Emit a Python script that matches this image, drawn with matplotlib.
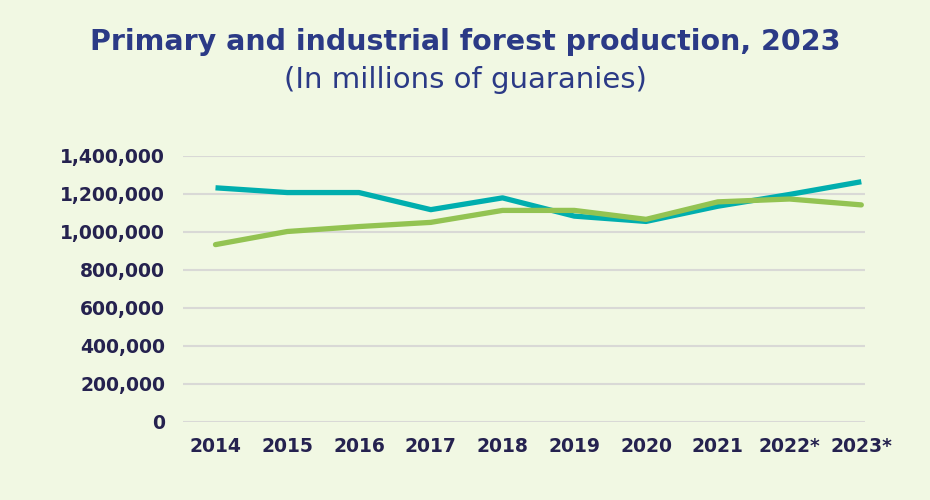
import matplotlib
matplotlib.use("Agg")
import matplotlib.pyplot as plt
from matplotlib.ticker import FuncFormatter

# Datos
years = ["2014", "2015", "2016", "2017", "2018", "2019", "2020", "2021", "2022*", "2023*"]
teal_values = [1230000, 1205000, 1205000, 1115000, 1177000, 1081000, 1053000, 1133000, 1195000, 1262000]
green_values = [931000, 1000000, 1026000, 1048000, 1111000, 1111000, 1064000, 1156000, 1171000, 1140000]
y_ticks = [0, 200000, 400000, 600000, 800000, 1000000, 1200000, 1400000]

bg = '#f1f8e3'
navy = '#2b3a86'
tick_color = '#25224f'
font = 'DejaVu Sans'

fig = plt.figure(figsize=(9.3, 5), dpi=100, facecolor=bg)
ax = fig.add_axes([0.197, 0.157, 0.733, 0.532], facecolor=bg)

x = list(range(len(years)))
ax.plot(x, teal_values, color='#00aeae', linewidth=3.8, solid_capstyle='butt', clip_on=False, zorder=3)
ax.plot(x, green_values, color='#93c352', linewidth=3.8, solid_capstyle='round', clip_on=False, zorder=4)

ax.set_ylim(0, 1400000)
ax.set_xlim(-0.45, 9.05)
ax.set_yticks(y_ticks)
ax.yaxis.set_major_formatter(FuncFormatter(lambda v, p: f"{int(v):,}"))
ax.set_xticks(x)
ax.set_xticklabels(years)

ax.grid(axis='y', color='#d9d9d6', linewidth=1.5, zorder=0)
ax.set_axisbelow(True)
for s in ax.spines.values():
    s.set_visible(False)
ax.tick_params(axis='both', length=0, labelsize=13.5, labelcolor=tick_color)
ax.tick_params(axis='y', pad=13)
ax.tick_params(axis='x', pad=11)
for lbl in ax.get_xticklabels() + ax.get_yticklabels():
    lbl.set_fontweight('bold')
    lbl.set_fontfamily(font)

fig.text(0.5, 0.916, 'Primary and industrial forest production, 2023', ha='center', va='center',
         fontsize=20.5, fontweight='bold', color=navy, family=font)
fig.text(0.5, 0.84, '(In millions of guaranies)', ha='center', va='center',
         fontsize=21, color=navy, family=font)

plt.savefig('out.png', dpi=100, facecolor=bg)
